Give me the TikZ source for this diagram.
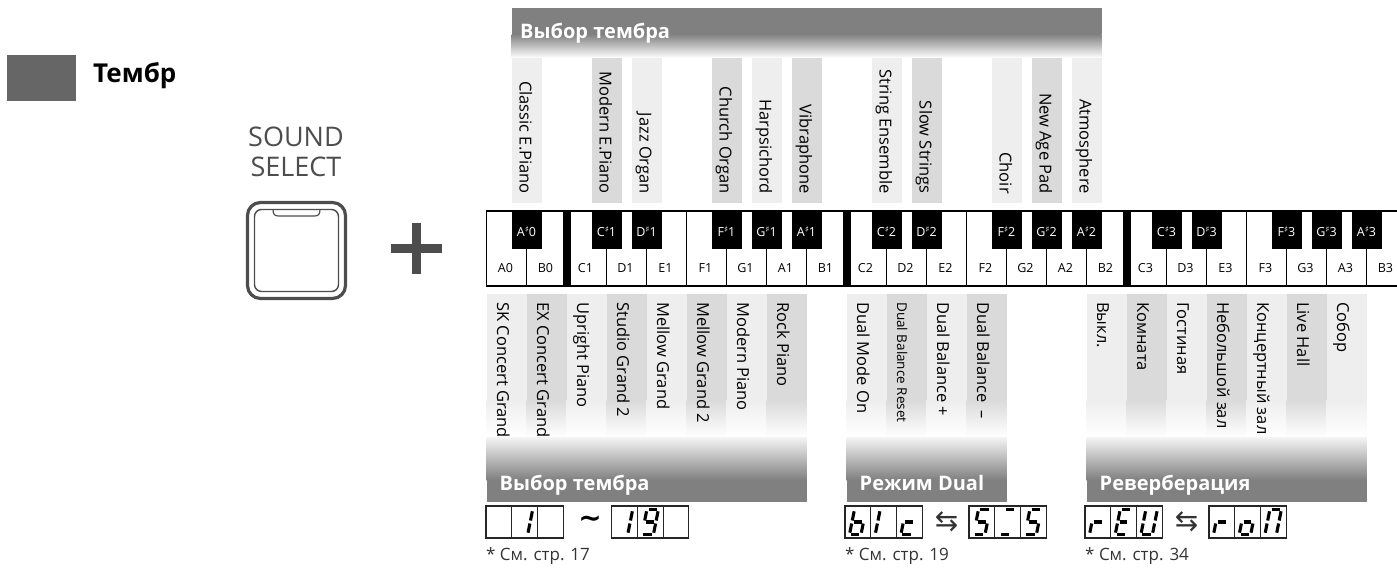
\documentclass[tikz,border=0pt]{standalone}
\usepackage{fontspec}
\setmainfont{Open Sans}
\newfontfamily\symfont{DejaVu Sans}
\usetikzlibrary{positioning}

\definecolor{bargray}{HTML}{808080}
\definecolor{keylight}{HTML}{EEEEEE}
\definecolor{keydark}{HTML}{DADADA}
\definecolor{inkgray}{HTML}{4D4D4D}
\definecolor{tabgray}{HTML}{666666}

% small raised sharp for the black keys
\newcommand{\sharpsign}{\raisebox{0.5ex}{\symfont\fontsize{8.5}{8.5}\selectfont ♯}}

% seven segment pieces (y runs downwards, digit 11 x 25)
\newcommand{\segA}{\draw[segline] (1.8,0) -- (10,0);}
\newcommand{\segB}{\draw[segline] (11.5,1.8) -- (11.5,11);}
\newcommand{\segC}{\draw[segline] (11.5,14) -- (11.5,23.2);}
\newcommand{\segD}{\draw[segline] (1.5,25) -- (9.7,25);}
\newcommand{\segE}{\draw[segline] (0,14) -- (0,23.2);}
\newcommand{\segF}{\draw[segline] (0,1.8) -- (0,11);}
\newcommand{\segG}{\draw[segline] (1.8,12.5) -- (9.7,12.5);}
\newcommand{\lcd}[2]{%
  \draw[cellbox] (#1,506) rectangle ++(25.7,32);
  \begin{scope}[shift={(#1+9.5,509.5)},xslant=0.2] #2 \end{scope}}

\begin{document}
\begin{tikzpicture}[x=1pt,y=-1pt,
    segline/.style={line width=3.1pt},
    cellbox/.style={draw=black!85,line width=1.1pt},
    keyline/.style={line width=0.9pt},
    toplabel/.style={rotate=-90,anchor=base east,inner sep=0pt,font=\fontsize{16.5}{19}\selectfont},
    lowlabel/.style={rotate=-90,anchor=base west,inner sep=0pt,font=\fontsize{16.5}{19}\selectfont},
    whitelabel/.style={inner sep=0pt,font=\fontsize{12.5}{15}\selectfont},
    blacklabel/.style={inner sep=0pt,text=white,font=\fontsize{12.5}{15}\selectfont},
    bartitle/.style={anchor=base west,inner sep=0pt,text=white,font=\bfseries\fontsize{20}{23}\selectfont},
    pagenote/.style={anchor=base west,inner sep=0pt,text=black!80,font=\fontsize{17}{20}\selectfont},
    arrowsym/.style={inner sep=0pt,text=black!80,font=\symfont\fontsize{28}{28}\selectfont}]
\useasboundingbox (0,0) rectangle (1397,570);
\clip (0,0) rectangle (1397,570);

% heading
\fill[tabgray] (7,55) rectangle (76,101);
\node[anchor=base west,inner sep=0pt,font=\bfseries\fontsize{26}{30}\selectfont] (title) at (93,82) {Тембр};

% button
\node[anchor=base,inner sep=0pt,text=inkgray,font=\fontsize{27}{30}\selectfont] (sound) at (296,146) {SOUND};
\node[anchor=base,inner sep=0pt,text=inkgray,font=\fontsize{27}{30}\selectfont] (select) at (296,176) {SELECT};
\draw[inkgray,line width=3.2pt,rounded corners=13pt] (247.5,202.5) rectangle (345.5,298.5);
\draw[inkgray,line width=1.4pt,rounded corners=7pt] (254.5,209.5) rectangle (338.5,291.5);
\draw[inkgray,line width=1.2pt] (273,209.5) .. controls (273,215) and (275,216) .. (279,216)
  -- (314,216) .. controls (318,216) and (320,215) .. (320,209.5);
\fill[inkgray] (391,244) rectangle (442,253);
\fill[inkgray] (412,223) rectangle (421,274);

% upper bar and columns
\fill[bargray] (511.5,8) rectangle (1101.5,34);
\shade[top color=bargray,bottom color=white] (511.5,34) rectangle (1101.5,58);
\node[bartitle] (tonebar) at (520,38) {Выбор тембра};
\foreach \i/\c/\t in {1/keylight/Classic E.Piano, 3/keydark/Modern E.Piano,
    4/keylight/Jazz Organ, 6/keydark/Church Organ, 7/keylight/Harpsichord,
    8/keydark/Vibraphone, 10/keylight/String Ensemble, 11/keydark/Slow Strings,
    13/keylight/Choir, 14/keydark/New Age Pad, 15/keylight/Atmosphere} {
  \fill[\c] (486.5+40*\i-15,58) rectangle ++(30,145);
  \node[toplabel] (tone-\i) at (486.5+40*\i-7,194) {\t};
}

% keyboard
\fill[white] (486.5,211) rectangle (1420,286);
\foreach \i in {1,...,22}
  \draw[keyline] (486.5+40*\i,211) -- (486.5+40*\i,286);
\draw[line width=1.6pt] (1420,211) -- (486.5,211) -- (486.5,286) -- (1420,286);
\foreach \i in {2,9,16}
  \fill (486.5+40*\i-4,211) rectangle ++(8,75);
\foreach \i/\n in {0/A0,1/B0,2/C1,3/D1,4/E1,5/F1,6/G1,7/A1,8/B1,9/C2,10/D2,11/E2,
    12/F2,13/G2,14/A2,15/B2,16/C3,17/D3,18/E3,19/F3,20/G3,21/A3,22/B3}
  \node[whitelabel] (w-\n) at (486.5+40*\i+19,268) {\n};
\foreach \i/\l/\o in {1/A/0,3/C/1,4/D/1,6/F/1,7/G/1,8/A/1,10/C/2,11/D/2,
    13/F/2,14/G/2,15/A/2,17/C/3,18/D/3,20/F/3,21/G/3,22/A/3} {
  \fill (486.5+40*\i-15,211) rectangle ++(30,38);
  \node[blacklabel] (b-\l\o) at (486.5+40*\i,231.5) {\l\sharpsign\o};
}

% lower columns
\foreach \j/\c in {0/keylight,1/keydark,2/keylight}
  \fill[\c] (486.5+40*\j+4.5,400) rectangle ++(27,38);
\foreach \j/\c/\t in {0/keylight/SK Concert Grand, 1/keydark/EX Concert Grand,
    2/keylight/Upright Piano, 3/keydark/Studio Grand 2, 4/keylight/Mellow Grand,
    5/keydark/Mellow Grand 2, 6/keylight/Modern Piano, 7/keydark/Rock Piano,
    9/keylight/Dual Mode On, 10/keydark/{\fontsize{13.5}{16}\selectfont Dual Balance Reset},
    11/keylight/Dual Balance +, 12/keydark/Dual Balance\enspace –,
    15/keylight/Выкл., 16/keydark/Комната, 17/keylight/Гостиная,
    18/keydark/Небольшой зал, 19/keylight/Концертный зал, 20/keydark/Live Hall,
    21/keylight/Собор} {
  \fill[\c] (486.5+40*\j,294) rectangle ++(40,106);
  \shade[top color=\c,bottom color=white] (486.5+40*\j,400) rectangle ++(40,37);
}

% lower bars
\foreach \a/\b/\t in {0/8/Выбор тембра, 9/13/Режим Dual, 15/22/Реверберация} {
  \shade[top color=white!92!bargray,bottom color=bargray] (486.5+40*\a,437) rectangle (486.5+40*\b,480);
  \fill[bargray] (486.5+40*\a,480) rectangle (486.5+40*\b,502);
  \node[bartitle] (bar-\a) at (486.5+40*\a+13,490) {\t};
}
\foreach \j/\t in {0/SK Concert Grand, 1/EX Concert Grand, 2/Upright Piano,
    3/Studio Grand 2, 4/Mellow Grand, 5/Mellow Grand 2, 6/Modern Piano, 7/Rock Piano,
    9/Dual Mode On, 10/{\fontsize{13.5}{16}\selectfont Dual Balance Reset},
    11/Dual Balance +, 12/Dual Balance\enspace –,
    15/Выкл., 16/Комната, 17/Гостиная, 18/Небольшой зал, 19/Концертный зал,
    20/Live Hall, 21/Собор}
  \node[lowlabel] (sound-\j) at (486.5+40*\j+10.5,302) {\t};

% displays
\lcd{486}{}
\lcd{511.7}{\segB\segC}
\lcd{537.4}{}
\node[inner sep=0pt,font=\symfont\bfseries\fontsize{28}{28}\selectfont] (tilde) at (590,522) {∼};
\lcd{611.7}{\segB\segC}
\lcd{637.4}{\segA\segB\segC\segD\segF\segG}
\lcd{663.1}{}

\lcd{845}{\segC\segD\segE\segF\segG}
\lcd{870.7}{\segE\segF}
\lcd{896.4}{\segD\segE\segG}
\node[arrowsym] (swap-dual) at (946.7,522) {⇆};
\lcd{969}{\segA\segC\segD\segF\segG}
\lcd{994.7}{\segA\segD}
\lcd{1020.4}{\segA\segC\segD\segF\segG}

\lcd{1085}{\segE\segG}
\lcd{1110.7}{\segA\segD\segE\segF\segG}
\lcd{1136.4}{\segB\segC\segD\segE\segF}
\node[arrowsym] (swap-rev) at (1186.7,522) {⇆};
\lcd{1209}{\segE\segG}
\lcd{1234.7}{\segC\segD\segE\segG}
\lcd{1260.4}{\segA\segB\segC\segE\segF}

% page references
\node[pagenote] (ref-tone) at (486,560) {* См. стр. 17};
\node[pagenote] (ref-dual) at (845,560) {* См. стр. 19};
\node[pagenote] (ref-rev) at (1085,560) {* См. стр. 34};
\end{tikzpicture}
\end{document}
